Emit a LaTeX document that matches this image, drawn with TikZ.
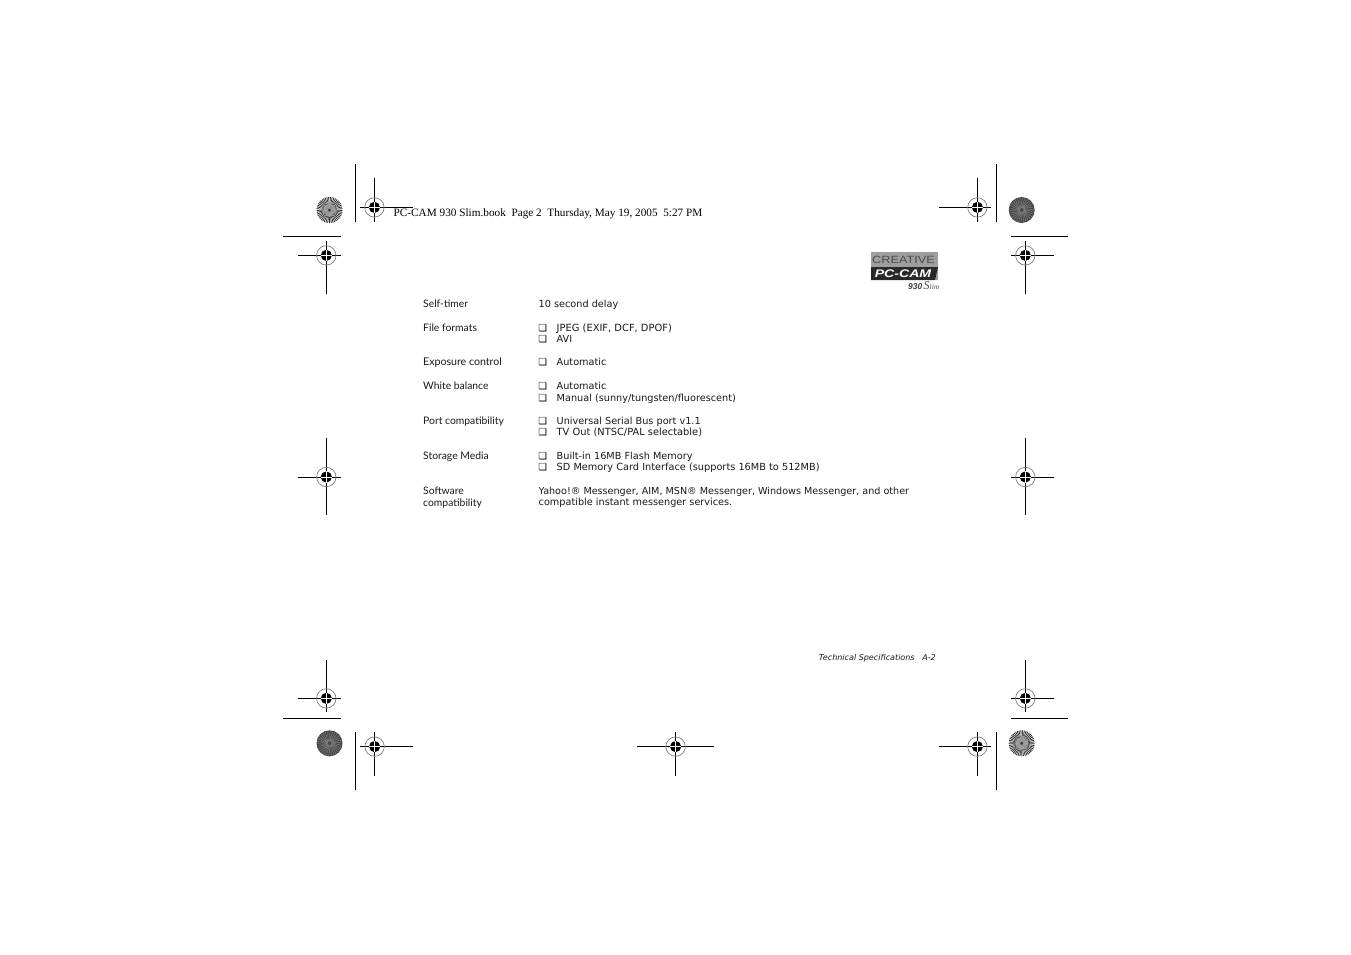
\documentclass[tikz,border=0pt]{standalone}
\usepackage{fontspec}
\setmainfont{DejaVu Sans}
\newfontfamily\labelfont{Lato}
\newfontfamily\stampfont{Liberation Serif}
\newfontfamily\logofont{Liberation Sans}
\definecolor{logogrey}{gray}{0.62}
\definecolor{logodark}{gray}{0.16}
\tikzset{
  trimline/.style={black,line width=1pt},
  hair/.style={black,line width=1pt},
  lab/.style={anchor=base west,inner sep=0pt,font=\labelfont\fontsize{10.35}{12}\selectfont,text=black!90},
  val/.style={anchor=base west,inner sep=0pt,font=\fontsize{9.7}{11}\selectfont,text=black!90},
  chk/.style={anchor=base west,inner sep=0pt,font=\fontsize{9.7}{11}\selectfont,text=black},
}
% center x, y, x-left, x-right, y-top, y-bottom
\newcommand{\regmark}[7]{%
  \coordinate (#1) at (#2,#3);
  \draw[hair] (#4,#3) -- (#5,#3);
  \draw[hair] (#2,#6) -- (#2,#7);
  \draw[black!50,line width=0.7pt] (#1) circle (9.7);
  \fill[black] (#1) circle (5.6);
  \draw[white,line width=0.35pt] ([xshift=-5.6pt]#1) -- ([xshift=5.6pt]#1);
  \draw[white,line width=0.35pt] ([yshift=-5.6pt]#1) -- ([yshift=5.6pt]#1);
}
\newcommand{\starburst}[3]{%
  \coordinate (#1) at (#2,#3);
  \fill[white] (#1) circle (13);
  \foreach \a in {0,8,...,352}{\fill[black!85] (#1) -- ++(\a:13) arc[start angle=\a,end angle=\a+4,radius=13] -- cycle;}
  \fill[black!35,opacity=0.75] (#1) circle (6);
  \fill[black!80] (#1) circle (1.5);
}
\newcommand{\graydisc}[3]{%
  \coordinate (#1) at (#2,#3);
  \fill[black!72] (#1) circle (13);
  \foreach \a in {0,12,...,348}{\draw[black!48,line width=0.45pt] (#1) ++(\a:2) -- ++(\a+40:10.5);}
}
\begin{document}
\begin{tikzpicture}[x=1pt,y=-1pt]
\useasboundingbox (0,0) rectangle (1351,954);
\fill[white] (0,0) rectangle (1351,954);
% trim lines
\draw[trimline] (355.3,164) -- (355.3,222);
\draw[trimline] (996.3,164) -- (996.3,222);
\draw[trimline] (355.3,732) -- (355.3,790);
\draw[trimline] (996.3,732) -- (996.3,790);
\draw[trimline] (283,236.3) -- (341,236.3);
\draw[trimline] (1011,236.3) -- (1068,236.3);
\draw[trimline] (283,718.3) -- (341,718.3);
\draw[trimline] (1011,718.3) -- (1068,718.3);
% registration marks
\regmark{ra}{374.4}{207.4}{360}{413}{178}{222}
\regmark{rb}{977.4}{207.4}{939}{991}{178}{222}
\regmark{rc}{326.3}{255.4}{298}{341}{241}{293.5}
\regmark{rd}{1025.3}{255.4}{1011}{1054}{241}{293.5}
\regmark{re}{326.3}{477}{298}{341}{438}{515}
\regmark{rf}{1025.3}{477}{1011}{1054}{438}{515}
\regmark{rg}{326.3}{698.4}{298}{341}{660}{712}
\regmark{rh}{1025.3}{698.4}{1011}{1054}{660}{712}
\regmark{ri}{374.6}{746.6}{360}{413}{732}{776}
\regmark{rj}{675.6}{746.6}{637}{714}{732}{776}
\regmark{rk}{977.4}{746.6}{939}{991}{732}{776}
% discs
\starburst{sa}{329.5}{210}
\graydisc{sb}{1021.7}{210}
\graydisc{sc}{329.5}{743.3}
\starburst{sd}{1021.7}{743.3}
% stamp
\node[anchor=base west,inner sep=0pt,font=\stampfont\fontsize{11.25}{13}\selectfont] (stamp) at (393.5,216) {PC-CAM 930 Slim.book\ \ Page 2\ \ Thursday, May 19, 2005\ \ 5:27 PM};
% logo
\fill[logogrey] (871,252) rectangle (938,280);
\fill[logodark] (871,267) -- (938,267) -- (935,280) -- (871,280) -- cycle;
\node[inner sep=0pt,xscale=1.21,font=\logofont\fontsize{10.5}{12}\selectfont,text=black!70] (logoa) at (903.5,259.5) {CREATIVE};
\node[inner sep=0pt,xscale=1.28,font=\logofont\bfseries\itshape\fontsize{11}{12}\selectfont,text=white] (logob) at (903,273.3) {PC-CAM};
\node[anchor=base east,inner sep=0pt,font=\logofont\bfseries\itshape\fontsize{8.5}{9}\selectfont,text=black!75] (logoc) at (922.5,289.5) {930};
\node[anchor=base west,inner sep=0pt,font=\stampfont\itshape\fontsize{7.5}{10}\selectfont,text=black!70] (logod) at (923.5,289.5) {{\fontsize{12}{10}\selectfont S}lim};
% labels
\node[lab] (l1) at (423,307) {Self-timer};
\node[lab] (l2) at (423,331) {File formats};
\node[lab,font=\labelfont\fontsize{10.6}{12}\selectfont] (l3) at (423,365) {Exposure control};
\node[lab] (l4) at (423,389) {White balance};
\node[lab] (l5) at (423,424) {Port compatibility};
\node[lab] (l6) at (423,459) {Storage Media};
\node[lab] (l7) at (423,494) {Software};
\node[lab] (l8) at (423,506) {compatibility};
% values
\node[val] (v1) at (538.5,307) {10 second delay};
\node[val,font=\fontsize{9.9}{11}\selectfont] (v2) at (556.5,331) {JPEG (EXIF, DCF, DPOF)};
\node[val] (v3) at (556.5,342) {AVI};
\node[val] (v4) at (556.5,365) {Automatic};
\node[val] (v5) at (556.5,389) {Automatic};
\node[val] (v6) at (556.5,401) {Manual (sunny/tungsten/fluorescent)};
\node[val] (v7) at (556.5,424) {Universal Serial Bus port v1.1};
\node[val,font=\fontsize{9.85}{11}\selectfont] (v8) at (556.5,435) {TV Out (NTSC/PAL selectable)};
\node[val] (v9) at (556.5,459) {Built-in 16MB Flash Memory};
\node[val,font=\fontsize{9.76}{11}\selectfont] (v10) at (556.5,470) {SD Memory Card Interface (supports 16MB to 512MB)};
\node[val,font=\fontsize{9.61}{11}\selectfont] (v11) at (538.5,494) {Yahoo!® Messenger, AIM, MSN® Messenger, Windows Messenger, and other};
\node[val] (v12) at (538.5,505) {compatible instant messenger services.};
% check boxes
\foreach \n/\y in {a/331,b/342,c/365,d/389,e/401,f/424,g/435,h/459,i/470}{
  \node[chk] (c\n) at (538.2,\y) {❏};
}
% footer
\node[anchor=base east,inner sep=0pt,font=\itshape\fontsize{8.03}{10}\selectfont,text=black!90] (foot) at (936,660.5) {Technical Specifications\ \ \ A-2};
\end{tikzpicture}
\end{document}
